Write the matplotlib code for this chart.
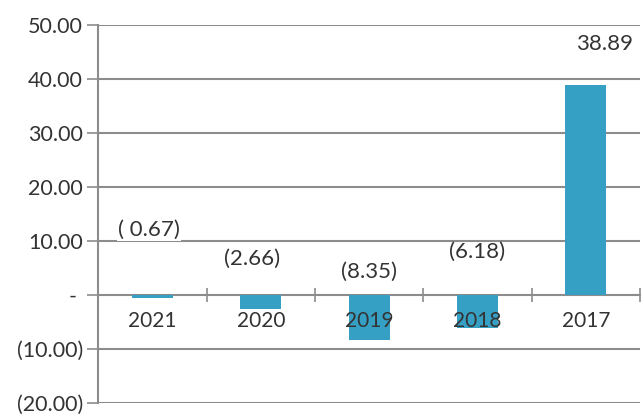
import matplotlib.pyplot as plt
import numpy as np

anos = ['2021', '2020', '2019', '2018', '2017']
valores = [-0.67, -2.66, -8.35, -6.18, 38.89]
rotulos = ['( 0.67)', '(2.66)', '(8.35)', '(6.18)', '38.89']
# posicao dos rotulos (y em unidades do grafico, deslocamento em x)
rotulo_y = [12.1, 6.6, 4.2, 7.9, 46.4]
rotulo_dx = [-0.03, -0.08, 0.0, 0.0, 0.17]

plt.rcParams['font.family'] = ['Lato', 'DejaVu Sans']
cinza = '#8c8c8c'
texto = '#333333'

fig = plt.figure(figsize=(6.42, 4.17), dpi=100)
ax = fig.add_axes([0.153, 0.034, 0.844, 0.906])

x = np.arange(len(anos))
ax.bar(x, valores, width=0.38, color='#36a0c4', zorder=3)

ax.set_xlim(-0.5, 4.5)
ax.set_ylim(-20, 50)

def contabil(v, pos=None):
    if abs(v) < 1e-9:
        return '- '
    if v < 0:
        return f'({abs(v):.2f})'
    return f'{v:.2f}'

ax.set_yticks(np.arange(-20, 51, 10))
ax.yaxis.set_major_formatter(plt.FuncFormatter(contabil))
ax.tick_params(axis='y', length=8, width=1.2, color=cinza, labelsize=15.5,
               labelcolor=texto, pad=3)
ax.grid(axis='y', color=cinza, lw=1.5, zorder=1)

# eixo das categorias na linha do zero
ax.spines['bottom'].set_position(('data', 0))
ax.spines['bottom'].set_color(cinza)
ax.spines['bottom'].set_linewidth(1.2)
ax.set_xticks(np.arange(-0.5, 4.6, 1.0))
ax.set_xticklabels([])
ax.tick_params(axis='x', direction='inout', length=10, width=1.2, color=cinza)

ax.spines['left'].set_color(cinza)
ax.spines['left'].set_linewidth(1.5)
ax.spines['top'].set_visible(False)
ax.spines['right'].set_visible(False)

for i, ano in enumerate(anos):
    ax.text(i, -4.9, ano, ha='center', va='center', fontsize=15, color=texto, zorder=4)

for i, r in enumerate(rotulos):
    ax.text(i + rotulo_dx[i], rotulo_y[i], r, ha='center', va='center',
            fontsize=16, color=texto, zorder=4,
            bbox=dict(facecolor='white', edgecolor='none', pad=1) if i == 0 else None)

fig.savefig('out.png', dpi=100)
